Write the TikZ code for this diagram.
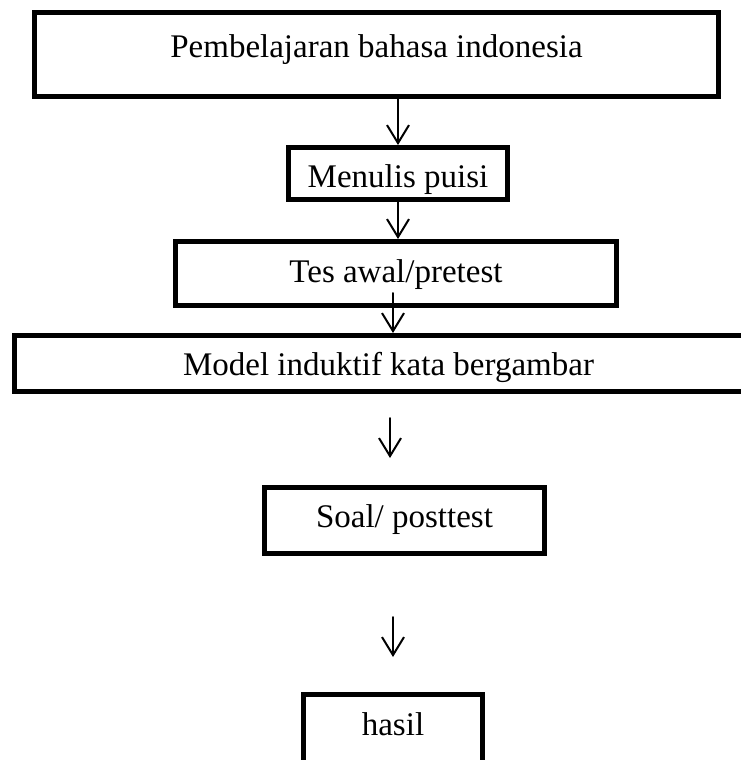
\documentclass[tikz,border=0pt]{standalone}
\usepackage{fontspec}
\setmainfont{Liberation Serif}
\usetikzlibrary{arrows.meta}
\begin{document}
\begin{tikzpicture}[x=1pt,y=-1pt,
  boxnode/.style={draw, line width=5pt, inner sep=0pt, anchor=north west,
    font=\fontsize{33}{40}\selectfont},
  arr/.style={line width=2pt, line cap=round,
    -{Straight Barb[length=18pt,width=22pt,line width=2pt]}}]
\clip (0,0) rectangle (741,760);
\fill[white] (0,0) rectangle (741,760);
\node[boxnode, minimum width=684pt, text height=45.5pt, text depth=38.5pt] (b1) at (32,10) {Pembelajaran bahasa indonesia};
\node[boxnode, minimum width=219pt, text height=39.5pt, text depth=12.5pt] (b2) at (286,145) {Menulis puisi};
\node[boxnode, minimum width=441pt, text height=40.5pt, text depth=23.5pt] (b3) at (173,239) {Tes awal/pretest};
\node[boxnode, minimum width=748pt, text height=39.5pt, text depth=16.5pt] (b4) at (12,333) {Model induktif kata bergambar};
\node[boxnode, minimum width=280pt, text height=39.5pt, text depth=26.5pt] (b5) at (262,485) {Soal/ posttest};
\node[boxnode, minimum width=179pt, text height=40.5pt, text depth=70pt] (b6) at (301,692) {hasil};
\coordinate (c3) at (393,293);
\coordinate (c4s) at (390,418);
\coordinate (c4e) at (390,458);
\coordinate (c5s) at (393,617);
\coordinate (c5e) at (393,657);
\draw[arr] (b1.south -| b2.north) -- (b2.north);
\draw[arr] (b2.south) -- (b2.south |- b3.north);
\draw[arr] (c3) -- (c3 |- b4.north);
\draw[arr] (c4s) -- (c4e);
\draw[arr] (c5s) -- (c5e);
\end{tikzpicture}
\end{document}
